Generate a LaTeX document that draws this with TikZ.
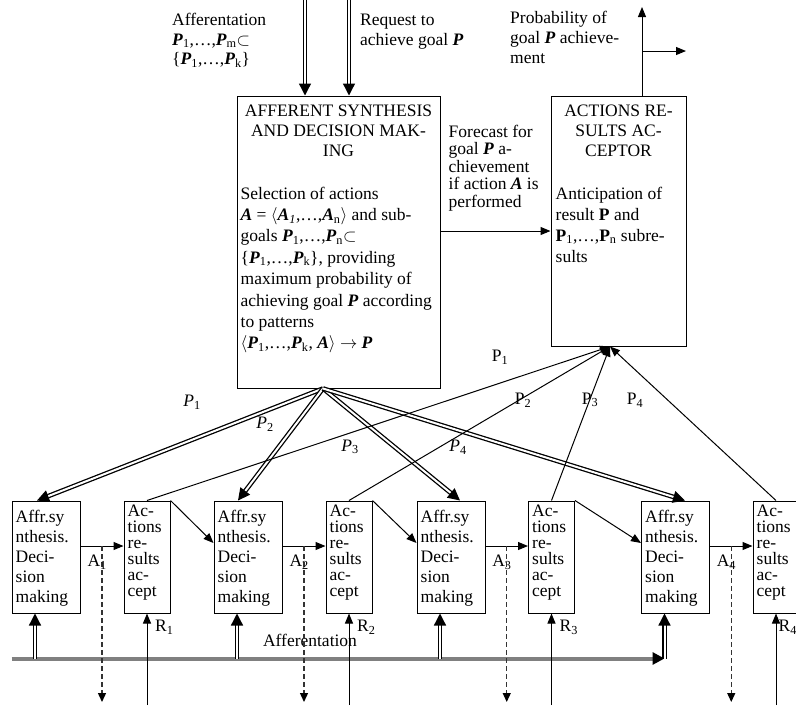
\documentclass[tikz,border=0pt]{standalone}
\usepackage{fontspec}
\setmainfont{Liberation Serif}
\usetikzlibrary{positioning,arrows.meta,calc}

\newcommand{\gP}{\textbf{\textit{P}}}
\newcommand{\gA}{\textbf{\textit{A}}}

\begin{document}
\begin{tikzpicture}[
  x=1pt, y=-1pt,
  font=\fontsize{17.5}{21}\selectfont,
  >={Triangle[length=10pt,width=8pt]},
  % boxes
  block/.style={draw, line width=1pt, inner sep=0pt},
  bigblock/.style={block, minimum width=203pt, minimum height=292pt},
  accblock/.style={block, minimum width=135pt, minimum height=250pt},
  affrblock/.style={block, minimum width=68pt, minimum height=112pt},
  actblock/.style={block, minimum width=46pt, minimum height=112pt},
  txt/.style={inner sep=0pt, align=left, anchor=north west},
  ttl/.style={inner sep=0pt, align=center, anchor=north,
    font=\fontsize{17.5}{20}\selectfont},
  lbl/.style={inner sep=0pt},
  % connectors
  thinarr/.style={line width=1pt, ->},
  dblarr/.style={double, double distance=2pt, line width=1.3pt,
    -{Triangle[length=12pt,width=12pt]}},
  dasharr/.style={dash pattern=on 5pt off 3pt, line width=1.3pt,
    draw=black!80, -{Triangle[length=9pt,width=8pt,color=black]}},
  affline/.style={line width=4pt, draw=gray,
    -{Triangle[length=12pt,width=12pt,color=black]}},
]

\useasboundingbox (0,0) rectangle (796,705);

% ---------------------------------------------------------------
% Upper level: afferent synthesis and acceptor
% ---------------------------------------------------------------
\node[bigblock] (afs) at (338.5,242) {};
\node[accblock] (acc) at (618.5,221) {};

\node[ttl] (afstitle) at ($(afs.north)+(0,9.5)$) {
  AFFERENT SYNTHESIS\\AND DECISION MAK-\\ING};
\node[txt, font=\fontsize{17.5}{21.4}\selectfont] (afsbody)
  at ($(afs.north west)+(4,91)$) {
  Selection of actions\\
  \gA{} = $\langle$\gA\textsubscript{\textit{1}},…,\gA\textsubscript{n}$\rangle$ and sub-\\
  goals \gP\textsubscript{1},…,\gP\textsubscript{n}$\subset$\\
  \{\gP\textsubscript{1},…,\gP\textsubscript{k}\}, providing\\
  maximum probability of\\
  achieving goal \gP{} according\\
  to patterns\\
  $\langle$\gP\textsubscript{1},…,\gP\textsubscript{k}, \gA$\rangle$ $\to$ \gP};

\node[ttl] (acctitle) at ($(acc.north)+(0,9.5)$) {
  ACTIONS RE-\\SULTS AC-\\CEPTOR};
\node[txt, font=\fontsize{17.5}{21}\selectfont] (accbody)
  at ($(acc.north west)+(5,91)$) {
  Anticipation of\\
  result \textbf{P} and\\
  \textbf{P}\textsubscript{1},…,\textbf{P}\textsubscript{n} subre-\\
  sults};

% inputs from above
\coordinate (in1) at (305,0);
\coordinate (in2) at (349,0);
\draw[dblarr] (in1) -- (in1 |- afs.north);
\draw[dblarr] (in2) -- (in2 |- afs.north);

\node[txt, font=\fontsize{17.5}{19.5}\selectfont] (afferin) at (172,13) {
  Afferentation\\
  \gP\textsubscript{1},…,\gP\textsubscript{m}$\subset$\\
  \{\gP\textsubscript{1},…,\gP\textsubscript{k}\}};
\node[txt, font=\fontsize{17.5}{20}\selectfont] (request) at (360,14) {
  Request to\\achieve goal \gP};

% forecast
\draw[thinarr] ($(afs.east)+(0,-11)$) coordinate (fc) -- (fc -| acc.west);
\node[txt, font=\fontsize{17.5}{17.6}\selectfont] (forecast)
  at ($(afs.north east)+(8,29)$) {
  Forecast for\\goal \gP{} a-\\chievement\\if action \gA{} is\\performed};

% probability output
\coordinate (probtop) at (642,7);
\coordinate (probfork) at (642,51);
\coordinate (probright) at (686,51);
\draw[thinarr] (probtop |- acc.north) -- (probtop);
\draw[thinarr] (probfork) -- (probright);
\node[txt, font=\fontsize{17.5}{20}\selectfont] (prob) at (510,11) {
  Probability of\\goal \gP{} achieve-\\ment};

% ---------------------------------------------------------------
% Lower level: chain of sub-systems
% ---------------------------------------------------------------
\foreach \i/\xa/\xb in {1/46/147, 2/248/349, 3/451/551.5, 4/675.5/776} {
  \node[affrblock] (affr\i) at (\xa,557) {};
  \node[actblock] (act\i) at (\xb,557) {};
  \node[txt, font=\fontsize{17.5}{20}\selectfont] (affrtxt\i)
    at ($(affr\i.north west)+(4,9)$) {Affr.sy\\nthesis.\\Deci-\\sion\\making};
  \node[txt, font=\fontsize{17.5}{16}\selectfont] (acttxt\i)
    at ($(act\i.north west)+(4,4.5)$) {Ac-\\tions\\re-\\sults\\ac-\\cept};
}

% afferentation bus
\coordinate (affstart) at ($(affr1.south west)+(0,45)$);
\coordinate (affend) at ($(affr4.south)+(-11,45)$);
\draw[affline] (affstart) -- (affend);
\node[lbl] (afflabel) at (310,640) {Afferentation};

\foreach \i/\rx in {1/8, 2/8, 3/8, 4/2.5} {
  % action A_i and its copy going out
  \draw[thinarr] ($(affr\i.east)+(0,-11)$) coordinate (aout\i)
    -- (aout\i -| act\i.west);
  \coordinate (adown\i) at ($(aout\i)!0.5!(aout\i -| act\i.west)$);
  \draw[dasharr] (adown\i) -- (adown\i |- 0,702);
  \node[lbl, anchor=east] (alabel\i) at ($(adown\i)+(5,16)$) {A\textsubscript{\i}};
  % result R_i coming back
  \coordinate (rin\i) at (act\i.south |- 0,705);
  \draw[thinarr] (rin\i) -- (act\i.south);
  \node[lbl, anchor=west] (rlabel\i) at ($(act\i.south)+(\rx,14)$) {R\textsubscript{\i}};
  % afferentation into each synthesis
  \draw[dblarr] ($(affr\i.south)+(-11,45)$) -- ($(affr\i.south)+(-11,0)$);
}

\foreach \i/\j in {1/2, 2/3, 3/4}
  \draw[thinarr] (act\i.north east) -- ($(affr\j.west)+(0,-14)$);

% sub-goals down, sub-results up
\coordinate (afsout) at ($(afs.south)+(-15.5,0)$);
\coordinate (accin) at ($(acc.south)+(-8.5,0)$);
\foreach \i/\dx in {1/-9, 2/-10, 3/9, 4/9.5}
  \draw[dblarr] (afsout) -- ($(affr\i.north)+(\dx,0)$);
\foreach \i in {1,...,4}
  \draw[thinarr] (act\i.north) -- (accin);

\node[lbl] (pa1) at (192,402) {\textit{P}\textsubscript{1}};
\node[lbl] (pa2) at (265,424) {\textit{P}\textsubscript{2}};
\node[lbl] (pa3) at (350,447) {\textit{P}\textsubscript{3}};
\node[lbl] (pa4) at (458,447) {\textit{P}\textsubscript{4}};
\node[lbl] (pr1) at (500,357) {P\textsubscript{1}};
\node[lbl] (pr2) at (523,400) {P\textsubscript{2}};
\node[lbl] (pr3) at (590,400) {P\textsubscript{3}};
\node[lbl] (pr4) at (635,400) {P\textsubscript{4}};

\end{tikzpicture}
\end{document}
